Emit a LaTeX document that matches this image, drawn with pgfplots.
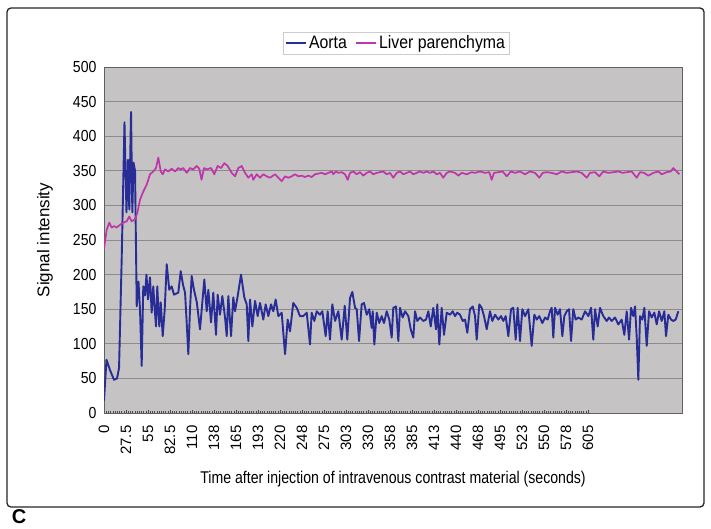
\documentclass[border=0pt]{standalone}
\usepackage{fontspec}
\setmainfont{Liberation Sans}
\newfontfamily\condA[FakeStretch=0.83]{Liberation Sans}
\newfontfamily\condB[FakeStretch=0.88]{Liberation Sans}
\usepackage{pgfplots}
\usepackage{pgfplotstable}
\pgfplotsset{compat=1.18}
\definecolor{plotgray}{RGB}{197,195,195}
\definecolor{gridgray}{RGB}{140,138,138}
\definecolor{aortablue}{RGB}{40,44,150}
\definecolor{livermag}{RGB}{192,52,172}

\pgfplotstableread{
x y
0 18
3.1 77
7.5 62
12.5 48
16.3 50
18.8 65
22.1 222
25.6 420
28.1 290
30 366
31.6 294
33.8 435
35.4 290
36.9 362
38.8 350
40.9 154
43.1 190
45 150
47.1 68
49.1 183
51.3 170
53.1 200
55 164
57.5 196
59.6 145
61.6 183
63.4 150
65 125
66.6 183
69.1 125
70.9 160
73.4 111
75.9 150
78.4 215
81.6 178
84.6 183
87.5 171
92.9 174
95.9 205
98.8 185
101.3 174
103.4 130
105.4 85
107.5 150
109.6 198
112.5 178
116 160
120 121
125.4 193
128.4 147
130.4 178
133.8 131
136.6 174
140 113
142.1 171
145 142
147.9 169
151.3 138
153.4 111
155.4 169
158.8 111
161.6 167
163.8 147
167.1 169
171.3 200
175.4 167
178.4 157
180.4 104
182.5 164
185.4 125
188.8 162
192.1 140
195 159
199.1 135
202.1 157
205.4 140
208.8 157
211.6 147
214.6 164
217.9 140
222.1 145
226.3 85
229.6 135
232.5 118
236.6 159
240.9 152
245 140
249.1 140
253.4 145
257.5 99
259.6 145
262.9 133
265.9 147
270 142
272.9 147
277.1 111
279.6 147
282.5 106
285.4 157
288.8 133
292.9 147
297.1 106
300.9 155
304.1 106
307.5 166
310.4 175
313.8 152
315.9 150
318.8 104
322.1 157
325 159
328.4 142
331.6 150
334.6 123
335.9 147
337.9 99
340.9 145
344.1 130
347.1 140
350 130
353.4 147
356.6 135
359.6 109
361.6 152
365 154
367.9 104
370 152
373.4 138
376.3 147
380.4 140
383.4 121
386.6 109
388.8 147
391.6 133
395 138
399.1 133
402.5 135
405.4 147
408.4 125
411.6 152
415 121
416.6 157
419.1 99
422.1 152
425 113
428.4 145
432.5 142
435.9 147
438.8 140
441.6 145
445 142
448.4 133
451.3 135
454.1 116
457.5 150
460.9 154
463.8 140
465.9 106
469.1 157
472.1 152
475 140
478.4 121
482.5 147
485.4 133
488.8 142
492.9 135
496.3 140
499.1 133
502.1 140
505.4 111
508.8 150
511.6 152
514.6 106
517.1 152
520 104
522.9 150
526.3 140
530.4 150
534.6 97
537.9 142
540.9 135
544.1 140
547.9 130
551.3 138
554.6 135
557.5 147
559.6 152
561.6 109
563.8 152
567.1 142
570 150
572.9 111
575.4 140
578.4 147
581.3 150
583.8 104
586.6 150
589.6 135
592.9 138
597.1 135
601.3 147
605.4 140
608.8 152
611.6 106
613.8 150
617.1 125
620 152
624.1 140
628.4 133
631.3 138
634.6 133
638.8 138
642.9 128
647.1 135
650.4 113
653.4 147
656.3 106
658.8 152
661.6 140
663.8 154
665.9 109
667.9 48
670 140
672.9 135
675.4 152
678.4 97
681.3 147
684.6 138
687.9 145
690.9 128
693.8 147
697.1 133
700.4 147
702.5 111
705.4 142
708.8 135
711.6 133
714.6 135
717.9 147
}\aorta

\pgfplotstableread{
x y
0 237
3.4 265
6.6 275
9.6 268
12.5 270
15.9 268
20 272
24.1 275
28.4 277
31.6 284
34.6 277
38.8 280
41.6 289
45 308
49.1 320
53.4 330
57.5 345
61.6 349
65 354
67.9 369
70.9 349
73.4 345
76.3 352
80.4 349
84.6 353
88.8 349
92.9 354
95.9 352
99.1 354
103.4 347
107.5 354
111.6 352
115.9 357
119.1 353
121.9 337
125 354
128.4 352
133.8 354
137.9 345
142.1 357
146.3 354
150.4 361
154.6 357
159.6 347
163.8 342
167.9 354
172.1 357
176.3 347
180.4 340
184.6 345
186.6 337
190.9 345
195 340
199.1 345
203.4 342
207.5 340
213.8 345
217.9 340
222.1 335
226.3 342
230.4 340
234.6 342
238.8 345
242.9 342
247.1 343
251.3 341
255.4 343
259.6 341
263.8 345
267.9 346
272.1 347
276.3 345
280.4 347
284.6 349
286.6 345
289.6 349
292.9 347
297.1 348
301.3 345
304.6 337
307.5 347
311.6 349
315.9 345
320 348
324.1 343
328.4 347
332.5 349
336.6 345
340.9 347
345 348
349.1 349
353.4 345
357.5 347
361.6 340
365.9 347
370 349
374.1 345
378.4 347
382.5 349
386.6 345
390.9 347
395 349
399.1 347
403.4 349
407.5 347
411.6 349
415.9 345
420 347
424.1 340
428.4 347
432.5 349
438.8 347
443 343
447.1 347
453.4 345
459.6 348
463.8 347
470 349
476.3 347
481.6 348
484.6 337
487.5 347
492.9 348
498.4 349
503.4 342
508.4 349
513.8 347
520 349
526.3 345
532.5 349
538.8 347
544.1 340
548.4 347
553.4 348
559.6 347
565.9 345
572.1 349
578.4 347
584.6 348
590.9 349
597.1 347
603.4 340
607.5 347
613.8 348
619.1 342
624.1 349
630.4 347
636.6 348
642.9 349
648.4 347
653.4 348
659.6 349
665.9 340
670 348
675 347
680.4 343
686.6 347
692.9 349
697.1 345
703.4 348
708.4 349
711.6 354
715.9 349
719.1 345
}\liver

\begin{document}
\begin{tikzpicture}[x=1pt,y=1pt]
\useasboundingbox (0,0) rectangle (711,529);
\fill[white] (0,0) rectangle (711,529);
\draw[line width=1.3pt, rounded corners=4pt, black!85] (7,22) rectangle (704,521);
\node[font=\bfseries\fontsize{20}{22}\selectfont, anchor=center] at (19,12) {C};
\begin{axis}[
  at={(104pt,116pt)}, anchor=south west,
  scale only axis, width=578pt, height=346pt,
  xmin=0, xmax=722.5, ymin=0, ymax=500,
  axis background/.style={fill=plotgray},
  axis line style={draw=gray!75!black, line width=0.8pt},
  ytick={0,50,...,500},
  ymajorgrids,
  major grid style={draw=gridgray, line width=0.9pt},
  xtick={0,27.5,55,82.5,110,137.5,165,192.5,220,247.5,275,302.5,330,357.5,385,412.5,440,467.5,495,522.5,550,577.5,605},
  xticklabels={0,27.5,55,82.5,110,138,165,193,220,248,275,303,330,358,385,413,440,468,495,523,550,578,605},
  minor x tick num=9,
  tick align=inside,
  xtick pos=bottom, ytick pos=left,
  major tick length=3pt, minor tick length=2pt,
  xtick style={draw=gray!60!black, line width=0.5pt},
  ytick style={draw=none},
  /pgf/number format/assume math mode=true,
  xticklabel style={rotate=90, anchor=east, font=\fontsize{15}{17}\selectfont},
  yticklabel style={font=\condB\fontsize{16}{18}\selectfont},
  xticklabel shift=9pt,
  yticklabel shift=4pt,
  xlabel={Time after injection of intravenous contrast material (seconds)},
  ylabel={Signal intensity},
  xlabel style={font=\condA\fontsize{17}{19}\selectfont, at={(axis description cs:0.5,-0.19)}, anchor=center},
  ylabel style={font=\fontsize{17}{19}\selectfont, at={(axis description cs:-0.102,0.5)}, anchor=center, rotate=0},
  legend style={at={(0.505,1.069)}, anchor=center, legend columns=2,
    draw=gray!40, fill=white, font=\condB\fontsize{18}{20}\selectfont,
    inner sep=2pt, /tikz/every even column/.append style={column sep=6pt}},
  legend image code/.code={\draw[#1, line width=2.2pt] (0pt,0pt) -- (20pt,0pt);},
  clip=true,
]
\addplot[color=aortablue, line width=1.9pt, line join=round] table[x=x,y=y] {\aorta};
\addlegendentry{Aorta}
\addplot[color=livermag, line width=1.7pt, line join=round] table[x=x,y=y] {\liver};
\addlegendentry{Liver parenchyma}
\end{axis}
\end{tikzpicture}
\end{document}
